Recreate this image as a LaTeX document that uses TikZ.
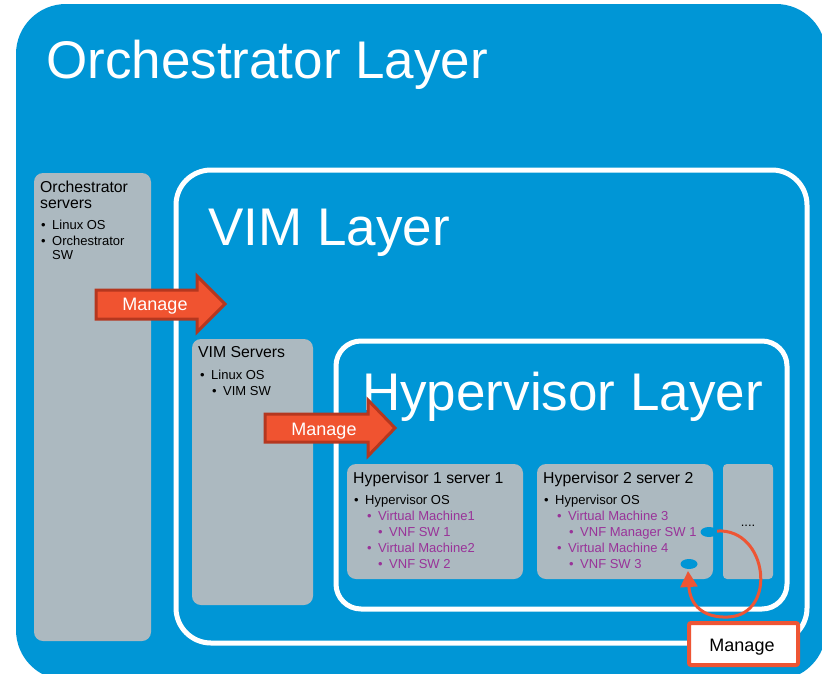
\documentclass[tikz,border=0pt]{standalone}
\usepackage{fontspec}
\setmainfont{Liberation Sans}
\usetikzlibrary{arrows.meta}
\definecolor{bgblue}{RGB}{0,150,214}
\definecolor{srvgray}{RGB}{172,185,192}
\definecolor{arrfill}{RGB}{240,83,48}
\definecolor{arrdraw}{RGB}{181,55,31}
\definecolor{mgorange}{RGB}{238,85,52}
\definecolor{vmpurple}{RGB}{153,51,153}
\newcommand{\blt}{\makebox[11pt][l]{•}}
\begin{document}
\begin{tikzpicture}[x=1pt,y=-1pt,
  titletext/.style={text=white,font=\fontsize{53}{60}\selectfont,anchor=base west,inner sep=0pt},
  headtext/.style={font=\fontsize{15.8}{18}\selectfont,anchor=base west,inner sep=0pt},
  itemtext/.style={font=\fontsize{13}{15}\selectfont,anchor=base west,inner sep=0pt},
  vmtext/.style={itemtext,text=vmpurple},
  srvbox/.style={fill=srvgray,rounded corners=9pt},
  layerbox/.style={draw=white,line width=5pt},
  bigarrow/.style={fill=arrfill,draw=arrdraw,line width=3pt,line join=miter},
  managetext/.style={font=\fontsize{18}{20}\selectfont,inner sep=0pt,anchor=base}
]
\useasboundingbox (0,0) rectangle (822,673);
\clip (0,0) rectangle (822,673);
\fill[white] (0,0) rectangle (822,673);
% outer layer
\fill[bgblue,rounded corners=50pt] (16,4) rectangle (826,680);
\node[titletext] (orchtitle) at (46,78) {Orchestrator Layer};
% orchestrator servers
\fill[srvbox] (34,173) rectangle (151,641);
\node[headtext] (orchh1) at (40,192) {Orchestrator};
\node[headtext] (orchh2) at (40,208) {servers};
\node[itemtext] (orchi1) at (41,229) {\blt Linux OS};
\node[itemtext] (orchi2) at (41,245) {\blt Orchestrator};
\node[itemtext] (orchi3) at (52,259) {SW};
% VIM layer
\draw[layerbox,rounded corners=35pt] (176,170) rectangle (807,643);
\node[titletext] (vimtitle) at (208,245) {VIM Layer};
\fill[srvbox] (192,339) rectangle (313,605);
\node[headtext] (vimh) at (198,357) {VIM Servers};
\node[itemtext] (vimi1) at (200,379) {\blt Linux OS};
\node[itemtext] (vimi2) at (212,395) {\blt VIM SW};
% arrow 1
\draw[bigarrow] (96,290) -- (197,290) -- (197,276) -- (225,304) -- (197,332) -- (197,319) -- (96,319) -- cycle;
\node[managetext,text=white] (man1) at (155,310) {Manage};
% hypervisor layer
\draw[layerbox,rounded corners=25pt] (336,341) rectangle (787,609);
\node[titletext] (hyptitle) at (362,410) {Hypervisor Layer};
% arrow 2
\draw[bigarrow] (265,414) -- (368,414) -- (368,400) -- (395,428) -- (368,456) -- (368,442) -- (265,442) -- cycle;
\node[managetext,text=white] (man2) at (324,435) {Manage};
% server boxes
\fill[srvbox] (347,464) rectangle (523,579);
\fill[srvbox] (537,464) rectangle (713,579);
\fill[fill=srvgray,rounded corners=4pt] (723,464) rectangle (773,579);
\node[itemtext,anchor=base] (more) at (748,526) {....};
\node[headtext] (h1h) at (353,483) {Hypervisor 1 server 1};
\node[itemtext] (h1a) at (354,504) {\blt Hypervisor OS};
\node[vmtext] (h1b) at (367,520) {\blt Virtual Machine1};
\node[vmtext] (h1c) at (378,536) {\blt VNF SW 1};
\node[vmtext] (h1d) at (367,552) {\blt Virtual Machine2};
\node[vmtext] (h1e) at (378,568) {\blt VNF SW 2};
\node[headtext] (h2h) at (543,483) {Hypervisor 2 server 2};
\node[itemtext] (h2a) at (544,504) {\blt Hypervisor OS};
\node[vmtext] (h2b) at (557,520) {\blt Virtual Machine 3};
\node[vmtext] (h2c) at (569,536) {\blt VNF Manager SW 1};
\node[vmtext] (h2d) at (557,552) {\blt Virtual Machine 4};
\node[vmtext] (h2e) at (569,568) {\blt VNF SW 3};
% ellipses
\fill[bgblue] (709,532) ellipse [x radius=8.5pt,y radius=5pt];
\coordinate (e1) at (717,531);
\fill[bgblue] (689,564) ellipse [x radius=8.5pt,y radius=5pt];
\coordinate (e2) at (688,571);
% curved arrow
\draw[mgorange,line width=3pt,-{Triangle[length=16pt,width=17pt]}]
  (e1) .. controls (768,528) and (778,615) .. (728,617)
       .. controls (703,618) and (690,605) .. (e2);
% manage box
\node[draw=mgorange,fill=white,line width=4pt,rounded corners=2pt,minimum width=109pt,minimum height=42pt,inner sep=0pt] (mbox) at (743.5,644) {};
\node[managetext] (man3) at (742,651) {Manage};
\end{tikzpicture}
\end{document}
